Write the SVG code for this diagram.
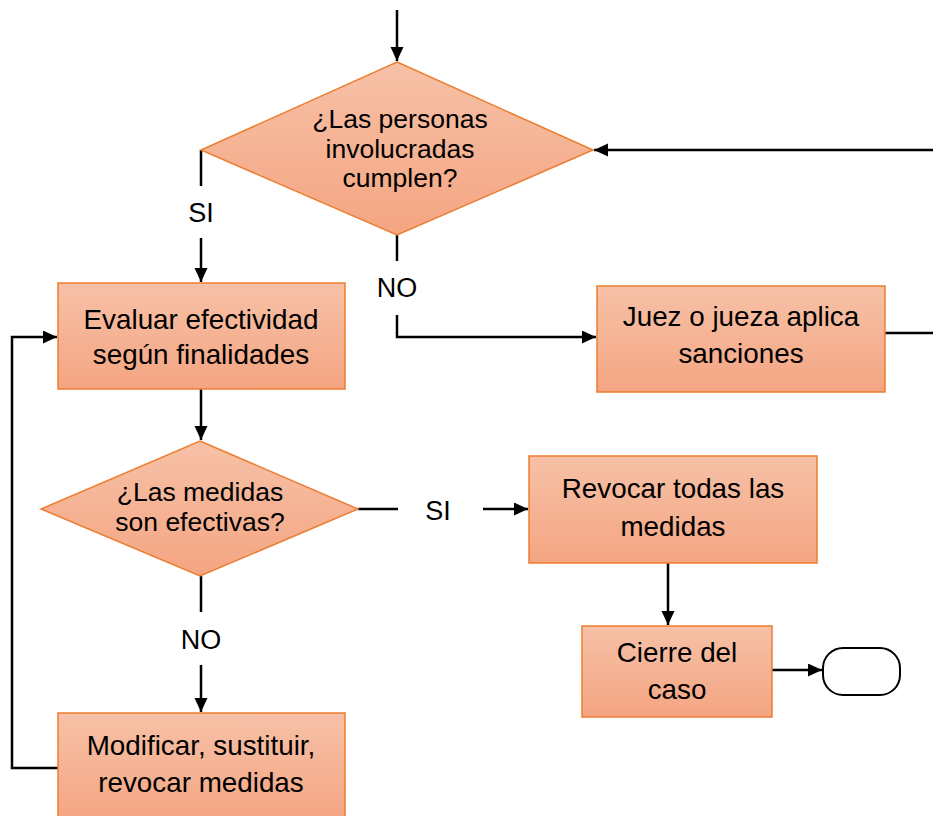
<svg xmlns="http://www.w3.org/2000/svg" width="933" height="816" viewBox="0 0 933 816">
<style>
.node{fill:url(#g);stroke:#ed7d31;stroke-width:1.5}
.t{font-family:"Liberation Sans",Arial,sans-serif;font-size:27.8px;fill:#000;text-anchor:middle}
.d{font-size:26.5px}
.lbl{font-family:"Liberation Sans",Arial,sans-serif;font-size:27px;fill:#000;text-anchor:middle}
.c{fill:none;stroke:#000;stroke-width:2.5}
</style>
<defs>
<linearGradient id="g" x1="0" y1="0" x2="0" y2="1">
<stop offset="0" stop-color="#f7c1a7"/>
<stop offset="1" stop-color="#f4a582"/>
</linearGradient>
<marker id="a" markerUnits="userSpaceOnUse" markerWidth="15" markerHeight="14" refX="14" refY="6.5" orient="auto">
<path d="M0,0 L14,6.5 L0,13 z" fill="#000"/>
</marker>
</defs>
<rect width="933" height="816" fill="#fff"/>
<g id="connectors">
<path class="c" d="M397,10 V61" marker-end="url(#a)"/>
<path class="c" d="M201,150 V186"/>
<path class="c" d="M201,238 V282" marker-end="url(#a)"/>
<path class="c" d="M397,235 V261"/>
<path class="c" d="M397,315 V337 H596" marker-end="url(#a)"/>
<path class="c" d="M885,333 H933"/>
<path class="c" d="M933,150 H594" marker-end="url(#a)"/>
<path class="c" d="M201,389 V440" marker-end="url(#a)"/>
<path class="c" d="M358,509 H398"/>
<path class="c" d="M483,509 H528" marker-end="url(#a)"/>
<path class="c" d="M201,576 V612"/>
<path class="c" d="M201,665 V712" marker-end="url(#a)"/>
<path class="c" d="M668,563 V625" marker-end="url(#a)"/>
<path class="c" d="M772,670 H822" marker-end="url(#a)"/>
<path class="c" d="M58,768 H12 V337 H57" marker-end="url(#a)"/>
<text class="lbl" x="201" y="222">SI</text>
<text class="lbl" x="397" y="297">NO</text>
<text class="lbl" x="438" y="520">SI</text>
<text class="lbl" x="201" y="649">NO</text>
</g>
<g id="decision1">
<polygon class="node" points="397,62 593,150 397,235 201,150"/>
<text class="t d" x="400" y="128">¿Las personas</text>
<text class="t d" x="400" y="158">involucradas</text>
<text class="t d" x="400" y="187">cumplen?</text>
</g>
<g id="evaluar">
<rect class="node" x="58" y="283" width="287" height="106"/>
<text class="t" x="201" y="329">Evaluar efectividad</text>
<text class="t" x="201" y="364">según finalidades</text>
</g>
<g id="sanciones">
<rect class="node" x="597" y="286" width="288" height="106"/>
<text class="t" x="741" y="326">Juez o jueza aplica</text>
<text class="t" x="741" y="363">sanciones</text>
</g>
<g id="decision2">
<polygon class="node" points="200,441 358,509 200,576 41,509"/>
<text class="t d" x="200" y="501">¿Las medidas</text>
<text class="t d" x="200" y="531">son efectivas?</text>
</g>
<g id="revocar">
<rect class="node" x="529" y="456" width="288" height="107"/>
<text class="t" x="673" y="498">Revocar todas las</text>
<text class="t" x="673" y="536">medidas</text>
</g>
<g id="cierre">
<rect class="node" x="582" y="626" width="190" height="91"/>
<text class="t" x="677" y="662">Cierre del</text>
<text class="t" x="677" y="699">caso</text>
</g>
<g id="fin">
<rect x="823" y="648" width="77" height="47" rx="20" ry="20" fill="#fff" stroke="#000" stroke-width="2"/>
</g>
<g id="modificar">
<rect class="node" x="58" y="713" width="287" height="110"/>
<text class="t" x="201" y="755">Modificar, sustituir,</text>
<text class="t" x="201" y="792">revocar medidas</text>
</g>
</svg>
